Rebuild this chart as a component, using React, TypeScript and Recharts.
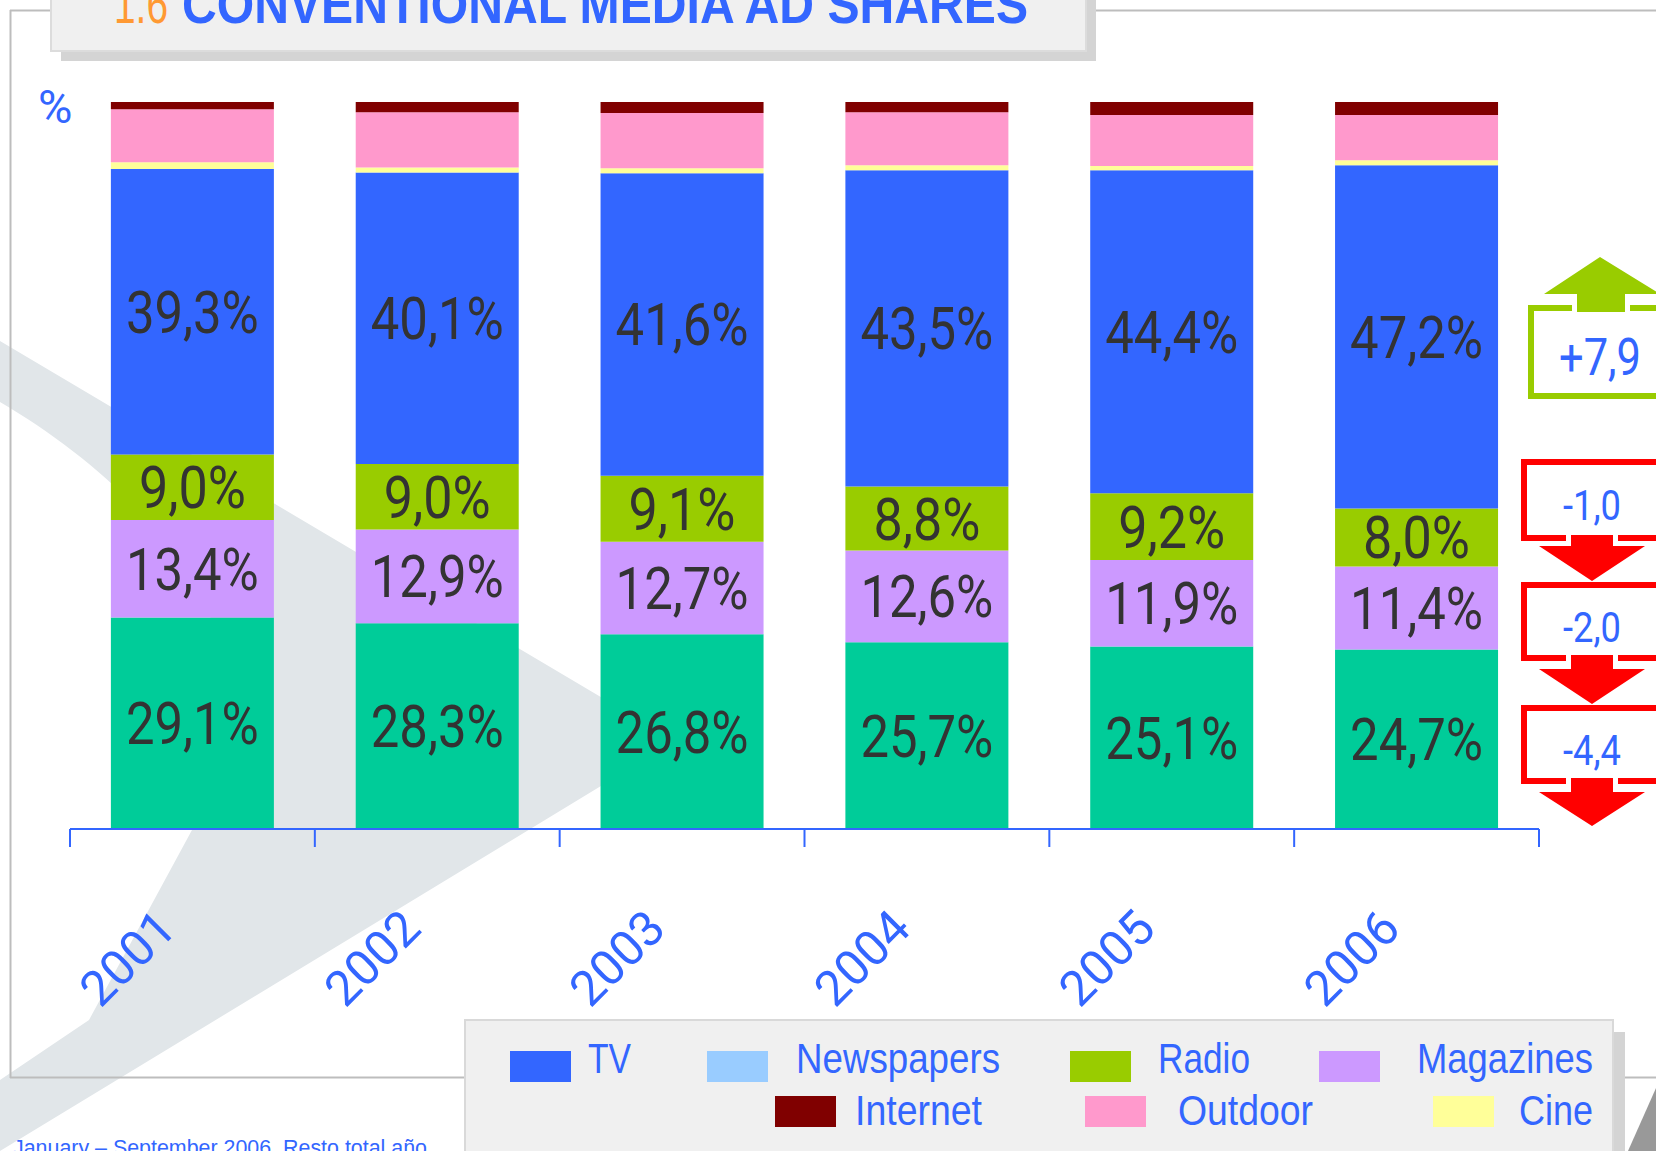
import { Bar, BarChart, LabelList, XAxis, YAxis } from "recharts"

const years = ["2001", "2002", "2003", "2004", "2005", "2006"]
const newspapers = [29.1, 28.3, 26.8, 25.7, 25.1, 24.7]
const magazines = [13.4, 12.9, 12.7, 12.6, 11.9, 11.4]
const radio = [9.0, 9.0, 9.1, 8.8, 9.2, 8.0]
const tv = [39.3, 40.1, 41.6, 43.5, 44.4, 47.2]
const cine = [0.9, 0.7, 0.7, 0.7, 0.6, 0.7]
const outdoor = [7.3, 7.6, 7.6, 7.3, 7.0, 6.2]
const internet = [1.0, 1.4, 1.5, 1.4, 1.8, 1.8]

const legendRow1 = ["TV", "Newspapers", "Radio", "Magazines"]
const legendRow2 = ["Internet", "Outdoor", "Cine"]

const data = years.map((year, i) => ({
  year,
  newspapers: newspapers[i],
  magazines: magazines[i],
  radio: radio[i],
  tv: tv[i],
  cine: cine[i],
  outdoor: outdoor[i],
  internet: internet[i],
}))

// stacked bottom -> top
const stack = [
  { key: "newspapers", fill: "#00cc99", label: true },
  { key: "magazines", fill: "#cc99ff", label: true },
  { key: "radio", fill: "#99cc00", label: true },
  { key: "tv", fill: "#3366ff", label: true },
  { key: "cine", fill: "#ffff99", label: false },
  { key: "outdoor", fill: "#ff99cc", label: false },
  { key: "internet", fill: "#800000", label: false },
]

// the legend swatch for Newspapers is light blue in the original, not the bar colour
const swatch: Record<string, string> = {
  TV: "#3366ff",
  Newspapers: "#99ccff",
  Radio: "#99cc00",
  Magazines: "#cc99ff",
  Internet: "#800000",
  Outdoor: "#ff99cc",
  Cine: "#ffff99",
}

const W = 1656
const H = 1151
const PLOT_LEFT = 70
const PLOT_RIGHT = 1539
const PLOT_TOP = 102
const PLOT_BOTTOM = 829
const X_AXIS_H = 100
const BAND = (PLOT_RIGHT - PLOT_LEFT) / years.length
const BLUE = "#3366ff"

const fmt = (v: number) => v.toFixed(1).replace(".", ",")
const last = years.length - 1
const delta = (arr: number[]) => {
  const d = arr[last] - arr[0]
  return (d > 0 ? "+" : "") + fmt(d)
}

function SegmentLabel(props: any) {
  const { x, y, width, height, value } = props
  const text = fmt(Number(value)) + "%"
  const digits = text.replace(/[^0-9]/g, "").length
  return (
    <text
      x={Number(x) + Number(width) / 2}
      y={Number(y) + Number(height) / 2 + 21}
      textAnchor="middle"
      fontFamily="Roboto"
      fontSize={60}
      fill="#333333"
      textLength={digits * 26 + 55}
      lengthAdjust="spacingAndGlyphs"
    >
      {text}
    </text>
  )
}

function YearTick(props: any) {
  const { x, index, payload } = props
  const cx = Number(x)
  const ax = cx - 14
  const ty = PLOT_BOTTOM + 102
  return (
    <g>
      <line x1={cx - BAND / 2} x2={cx - BAND / 2} y1={PLOT_BOTTOM} y2={PLOT_BOTTOM + 18} stroke={BLUE} strokeWidth={2} />
      {index === last && (
        <line x1={cx + BAND / 2} x2={cx + BAND / 2} y1={PLOT_BOTTOM} y2={PLOT_BOTTOM + 18} stroke={BLUE} strokeWidth={2} />
      )}
      <text
        x={ax}
        y={ty}
        transform={`rotate(-45 ${ax} ${ty})`}
        textAnchor="end"
        fontFamily="Roboto"
        fontSize={49}
        fill={BLUE}
      >
        {payload.value}
      </text>
    </g>
  )
}

// change boxes on the right: TV up, then Radio, Magazines, Newspapers down
const changeTexts = [delta(tv), delta(radio), delta(magazines), delta(newspapers)]

function DownBox({ top, bottom, base, apex, text, baseline }: any) {
  const cx = 1592
  return (
    <g>
      <rect x={1524} y={top + 3} width={200} height={bottom - top - 6} fill="#fff" stroke="#ff0000" strokeWidth={6} />
      <rect x={cx - 26} y={bottom - 7} width={52} height={8} fill="#fff" />
      <polygon
        points={`${cx - 21},${bottom - 6} ${cx + 21},${bottom - 6} ${cx + 21},${base} ${cx + 53},${base} ${cx},${apex} ${cx - 53},${base} ${cx - 21},${base}`}
        fill="#ff0000"
      />
      <text x={cx} y={baseline} textAnchor="middle" fontFamily="Roboto" fontSize={43} fill={BLUE} textLength={58} lengthAdjust="spacingAndGlyphs">
        {text}
      </text>
    </g>
  )
}

function Decorations() {
  const legendPos1 = [
    { sx: 510, tx: 588, tw: 43 },
    { sx: 707, tx: 796, tw: 204 },
    { sx: 1070, tx: 1158, tw: 92 },
    { sx: 1319, tx: 1417, tw: 176 },
  ]
  const legendPos2 = [
    { sx: 775, tx: 855, tw: 127 },
    { sx: 1085, tx: 1178, tw: 135 },
    { sx: 1433, tx: 1519, tw: 74 },
  ]
  return (
    <svg width={W} height={H} style={{ position: "absolute", left: 0, top: 0 }}>
      <rect x={0} y={0} width={W} height={H} fill="#fff" />
      {/* swoosh */}
      <path
        d="M 0 341 L 675 741 L 0 1151 L 0 1080 L 89 1020 L 192 830 C 300 650 150 490 0 402 Z"
        fill="#e1e6e9"
      />
      {/* frame */}
      <line x1={10} y1={10.5} x2={W} y2={10.5} stroke="#bdbdbd" strokeWidth={2} />
      <line x1={10.5} y1={10} x2={10.5} y2={1078} stroke="#bdbdbd" strokeWidth={2} />
      <line x1={10} y1={1077.5} x2={W} y2={1077.5} stroke="#bdbdbd" strokeWidth={2} />
      <polygon points="1656,1088 1656,1151 1628,1151" fill="#999999" />

      {/* title */}
      <rect x={61} y={-10} width={1035} height={71} fill="#d4d4d4" />
      <rect x={51} y={-10} width={1035} height={61} fill="#f0f0f0" stroke="#dcdcdc" strokeWidth={2} />
      <text x={114} y={23} fontFamily="Liberation Sans" fontSize={54} fill="#ff9933" textLength={54} lengthAdjust="spacingAndGlyphs">
        1.6
      </text>
      <text x={182} y={23} fontFamily="Liberation Sans" fontWeight="bold" fontSize={54} fill={BLUE} textLength={846} lengthAdjust="spacingAndGlyphs">
        CONVENTIONAL MEDIA AD SHARES
      </text>

      <text x={38} y={123} fontFamily="Roboto" fontSize={47} fill={BLUE}>
        %
      </text>

      {/* up box */}
      <rect x={1531} y={308} width={200} height={88} fill="#fff" stroke="#99cc00" strokeWidth={6} />
      <rect x={1572} y={300} width={58} height={14} fill="#fff" />
      <polygon points="1577,312 1625,312 1625,294 1660,294 1600,257 1544,294 1577,294" fill="#99cc00" />
      <text x={1600} y={375} textAnchor="middle" fontFamily="Roboto" fontSize={51} fill={BLUE} textLength={82} lengthAdjust="spacingAndGlyphs">
        {changeTexts[0]}
      </text>

      <DownBox top={459} bottom={541} base={546} apex={581} baseline={520} text={changeTexts[1]} />
      <DownBox top={582} bottom={661} base={669} apex={704} baseline={642} text={changeTexts[2]} />
      <DownBox top={705} bottom={784} base={792} apex={826} baseline={765} text={changeTexts[3]} />

      {/* legend */}
      <rect x={477} y={1032} width={1148} height={140} fill="#d4d4d4" />
      <rect x={465} y={1020} width={1148} height={140} fill="#f0f0f0" stroke="#d9d9d9" strokeWidth={2} />
      {legendRow1.map((name, i) => (
        <g key={name}>
          <rect x={legendPos1[i].sx} y={1051} width={61} height={31} fill={swatch[name]} />
          <text x={legendPos1[i].tx} y={1073} fontFamily="Liberation Sans" fontSize={43} fill={BLUE} textLength={legendPos1[i].tw} lengthAdjust="spacingAndGlyphs">
            {name}
          </text>
        </g>
      ))}
      {legendRow2.map((name, i) => (
        <g key={name}>
          <rect x={legendPos2[i].sx} y={1096} width={61} height={31} fill={swatch[name]} />
          <text x={legendPos2[i].tx} y={1125} fontFamily="Liberation Sans" fontSize={43} fill={BLUE} textLength={legendPos2[i].tw} lengthAdjust="spacingAndGlyphs">
            {name}
          </text>
        </g>
      ))}

      <text x={13} y={1155} fontFamily="Liberation Sans" fontSize={21.5} fill={BLUE} textLength={414} lengthAdjust="spacingAndGlyphs">
        January – September 2006. Resto total año
      </text>
    </svg>
  )
}

export default function App() {
  return (
    <div style={{ position: "absolute", left: 0, top: 0, width: W, height: H, overflow: "hidden" }}>
      <Decorations />
      <div style={{ position: "absolute", left: 0, top: 0 }}>
        <BarChart
          width={W}
          height={H}
          data={data}
          margin={{ top: PLOT_TOP, right: W - PLOT_RIGHT, bottom: H - PLOT_BOTTOM - X_AXIS_H, left: PLOT_LEFT }}
          barCategoryGap="16.7%"
        >
          <XAxis
            dataKey="year"
            height={X_AXIS_H}
            interval={0}
            tickLine={false}
            axisLine={{ stroke: BLUE, strokeWidth: 2 }}
            tick={<YearTick />}
          />
          <YAxis hide domain={[0, 100]} allowDataOverflow />
          {stack.map((s) => (
            <Bar key={s.key} dataKey={s.key} stackId="media" fill={s.fill} isAnimationActive={false}>
              {s.label && <LabelList dataKey={s.key} content={<SegmentLabel />} />}
            </Bar>
          ))}
        </BarChart>
      </div>
    </div>
  )
}
